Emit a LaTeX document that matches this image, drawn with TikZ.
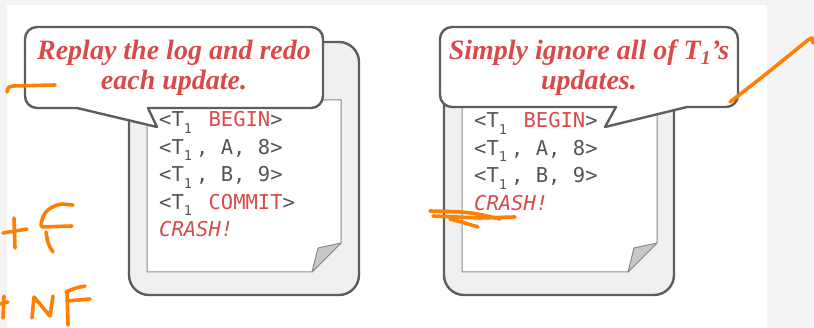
\documentclass[tikz,border=0pt]{standalone}
\usepackage{fontspec}
\setmainfont{Liberation Serif}
\newfontfamily\logfont{DejaVu Sans Mono}
\definecolor{logred}{HTML}{D94A4A}
\definecolor{loggray}{HTML}{555555}
\definecolor{boxedge}{HTML}{5E5E5E}
\definecolor{boxfill}{HTML}{F0F0F0}
\definecolor{pageedge}{HTML}{8A8A8A}
\definecolor{foldfill}{HTML}{C8C8C8}
\definecolor{ink}{HTML}{FF8000}
\definecolor{canvas}{HTML}{F4F4F4}
% subscript one filling one character cell of the log font
\newcommand{\tone}{\makebox[0.602em][l]{\raisebox{-0.3em}{\fontsize{13.5}{13.5}\selectfont 1}}}
% subscript one followed by a comma set tight against it
\newcommand{\tonec}{\makebox[0.602em][l]{\raisebox{-0.3em}{\fontsize{13.5}{13.5}\selectfont 1}\kern0.5pt}\makebox[0.602em][l]{,}}
\newcommand{\red}[1]{\textcolor{logred}{#1}}
\tikzset{
  outerbox/.style={draw=boxedge, fill=boxfill, line width=2.4pt, rounded corners=20pt},
  page/.style={draw=pageedge, fill=white, line width=1pt},
  fold/.style={draw=pageedge, fill=foldfill, line width=1pt, line join=round},
  callout/.style={draw=boxedge, fill=white, line width=2.4pt, line join=round},
  saying/.style={anchor=base, inner sep=0pt, text=logred,
    font=\fontsize{28}{32}\selectfont\bfseries\itshape},
  logline/.style={anchor=base west, inner sep=0pt, text=loggray,
    font=\logfont\fontsize{20.5}{24}\selectfont},
  scribble/.style={draw=ink, line width=3.6pt, line cap=round, line join=round}
}
\begin{document}
\begin{tikzpicture}[x=1pt,y=-1pt]
% canvas
\fill[canvas] (0,0) rectangle (814,328);
\fill[white] (7,5) rectangle (767,328);
\useasboundingbox (0,0) rectangle (814,328);

% ---------- left log: redo ----------
\draw[outerbox] (129,42) rectangle (359,295);
\draw[page] (147,100) -- (341,100) -- (341,243) -- (312,272) -- (147,272) -- cycle;
\draw[fold] (312,272) -- (341,243) -- (318,248) -- cycle;
\draw[callout] (77,108) [rounded corners=12pt] -- (25,108) -- (25,27) -- (323,27) -- (323,108) [sharp corners] -- (148,108) -- (157,127) -- cycle;
\node[saying] (redoA) at (174,60) {Replay the log and redo};
\node[saying] (redoB) at (174,90) {each update.};
\node[logline] (l1) at (159,127) {<T\tone{} \red{BEGIN}>};
\node[logline] (l2) at (159,154.5) {<T\tonec{} A, 8>};
\node[logline] (l3) at (159,182) {<T\tonec{} B, 9>};
\node[logline] (l4) at (159,209.5) {<T\tone{} \red{COMMIT}>};
\node[logline] (l5) at (159,237) {\red{\itshape CRASH!}};

% ---------- right log: ignore ----------
\draw[outerbox] (444,42) rectangle (674,295);
\draw[page] (462,100) -- (657,100) -- (657,243) -- (628,272) -- (462,272) -- cycle;
\draw[fold] (628,272) -- (657,243) -- (634,248) -- cycle;
\draw[callout] (616,107) [rounded corners=12pt] -- (440,107) -- (440,27) -- (738,27) -- (738,107) [sharp corners] -- (687,107) -- (605,127) -- cycle;
\node[saying] (ignA) at (589,60) {Simply ignore all of T\textsubscript{1}\symbol{"0027}s};
\node[saying] (ignB) at (589,90) {updates.};
\node[logline] (r1) at (474,128) {<T\tone{} \red{BEGIN}>};
\node[logline] (r2) at (474,155.5) {<T\tonec{} A, 8>};
\node[logline] (r3) at (474,183) {<T\tonec{} B, 9>};
\node[logline] (r4) at (474,210.5) {\red{\itshape CRASH!}};

% ---------- hand-drawn marks ----------
\draw[scribble] (7,92) .. controls (8,87) .. (13,86) -- (55,85);
% +F
\draw[scribble] (3,233) -- (27,229);
\draw[scribble] (14,218) -- (15,248);
\draw[scribble] (41,226) .. controls (42,212) and (50,206) .. (62,204) -- (73,205);
\draw[scribble] (42,227) -- (72,226);
\draw[scribble] (46,232) .. controls (48,244) .. (53,252);
% tNF
\draw[scribble] (0,304) -- (8,302);
\draw[scribble] (4,296) -- (3,318);
\draw[scribble] (32,318) -- (34,297) -- (50,316) -- (53,296);
\draw[scribble] (67,291) -- (68,325);
\draw[scribble] (66,292) .. controls (75,288) .. (85,286);
\draw[scribble] (67,301) -- (90,299);
% strokes on the right panel
\draw[scribble] (430,211) .. controls (470,212) .. (500,219);
\draw[scribble] (433,216) -- (480,218) -- (515,217);
\draw[scribble] (450,219) .. controls (465,223) .. (478,227);
\draw[scribble] (730,102) .. controls (765,75) .. (808,40) -- (812,38) -- (813,43);
\end{tikzpicture}
\end{document}
